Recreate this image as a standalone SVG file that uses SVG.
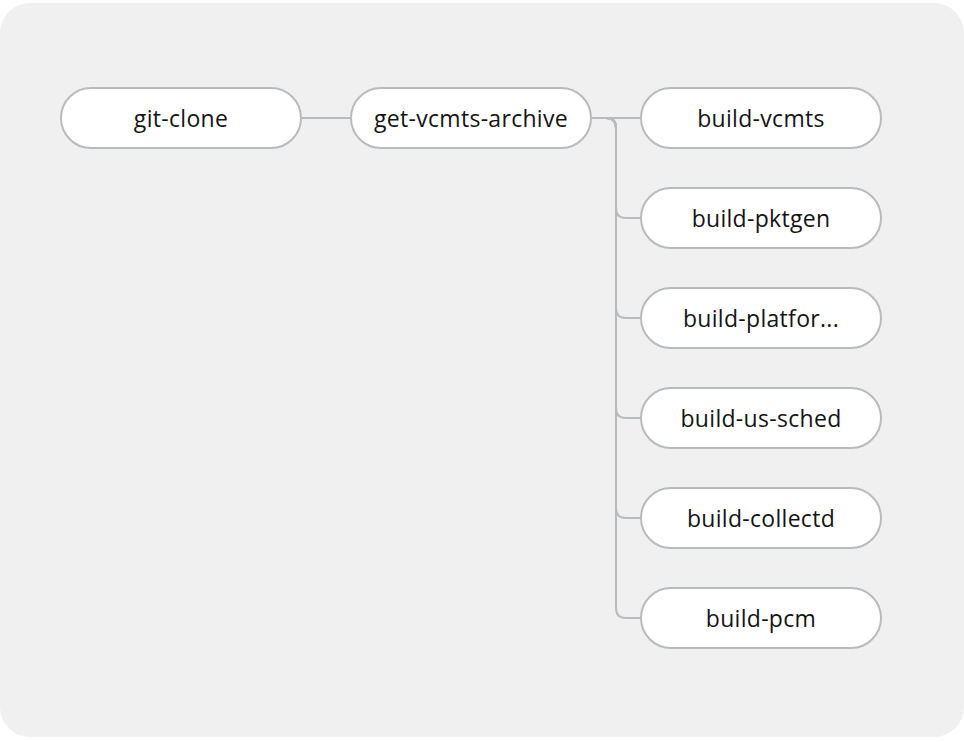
<svg xmlns="http://www.w3.org/2000/svg" width="964" height="742" viewBox="0 0 964 742">
<style>
.node rect{fill:#fff;stroke:#b8bbbe;stroke-width:2}
.node text{font-family:"Open Sans","Liberation Sans",sans-serif;font-size:23px;letter-spacing:0.3px;fill:#151515;text-anchor:middle;dominant-baseline:central}
.edge{fill:none;stroke:#b8bbbe;stroke-width:2}
</style>
<rect x="0" y="3" width="964" height="734" rx="30" fill="#f0f0f0"/>
<g id="connectors">
<path class="edge" d="M301,118 H351"/>
<path class="edge" d="M591,118 H641"/>
<path class="edge" d="M591,118 H606 Q616,118 616,128 V208 Q616,218 626,218 H641"/>
<path class="edge" d="M591,118 H606 Q616,118 616,128 V308 Q616,318 626,318 H641"/>
<path class="edge" d="M591,118 H606 Q616,118 616,128 V408 Q616,418 626,418 H641"/>
<path class="edge" d="M591,118 H606 Q616,118 616,128 V508 Q616,518 626,518 H641"/>
<path class="edge" d="M591,118 H606 Q616,118 616,128 V608 Q616,618 626,618 H641"/>
</g>
<g id="git-clone" class="node"><rect x="61" y="88" width="240" height="60" rx="30"/><text x="181" y="118">git-clone</text></g>
<g id="get-vcmts-archive" class="node"><rect x="351" y="88" width="240" height="60" rx="30"/><text x="471" y="118">get-vcmts-archive</text></g>
<g id="build-vcmts" class="node"><rect x="641" y="88" width="240" height="60" rx="30"/><text x="761" y="118">build-vcmts</text></g>
<g id="build-pktgen" class="node"><rect x="641" y="188" width="240" height="60" rx="30"/><text x="761" y="218">build-pktgen</text></g>
<g id="build-platform" class="node"><rect x="641" y="288" width="240" height="60" rx="30"/><text x="761" y="318">build-platfor...</text></g>
<g id="build-us-sched" class="node"><rect x="641" y="388" width="240" height="60" rx="30"/><text x="761" y="418">build-us-sched</text></g>
<g id="build-collectd" class="node"><rect x="641" y="488" width="240" height="60" rx="30"/><text x="761" y="518">build-collectd</text></g>
<g id="build-pcm" class="node"><rect x="641" y="588" width="240" height="60" rx="30"/><text x="761" y="618">build-pcm</text></g>
</svg>
